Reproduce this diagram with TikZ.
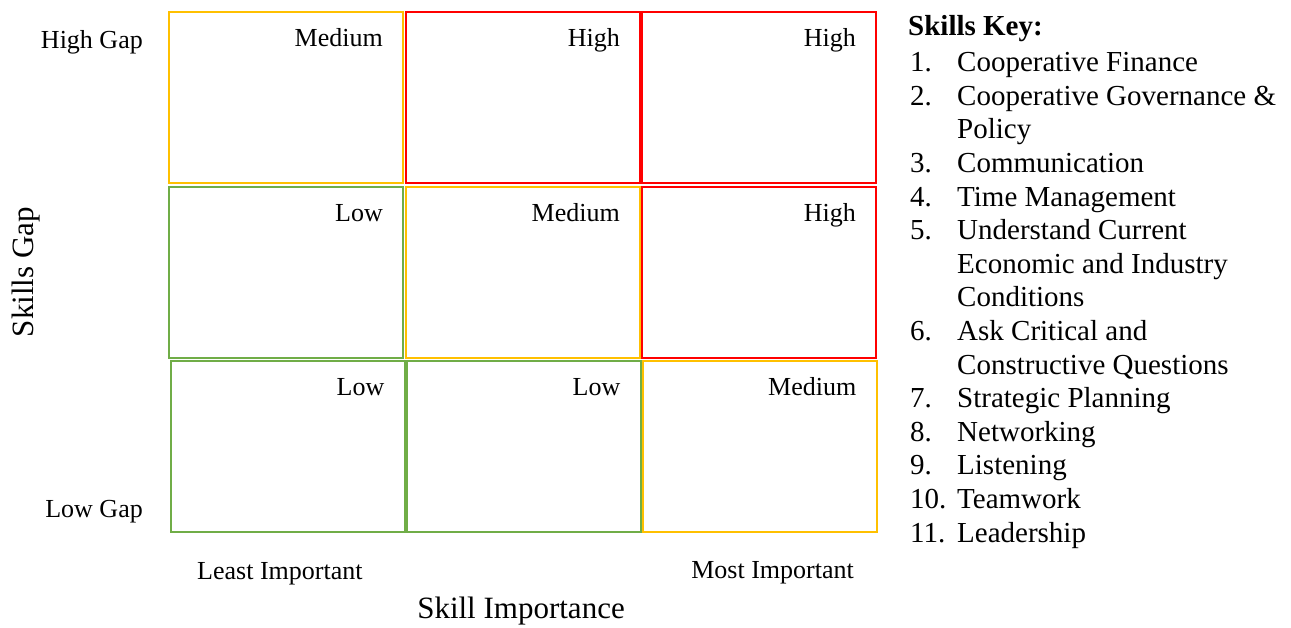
\documentclass[tikz,border=0pt]{standalone}
\usepackage{fontspec}
\setmainfont{Liberation Serif}
\definecolor{ylw}{HTML}{FFC000}
\definecolor{rd}{HTML}{FF0000}
\definecolor{grn}{HTML}{70AD47}
\begin{document}
\begin{tikzpicture}[x=1pt,y=-1pt,
  cell/.style={draw=#1, line width=2pt, minimum width=234pt, minimum height=171pt, inner sep=0pt},
  lvl/.style={anchor=base east, inner sep=0pt, font=\fontsize{26}{30}\selectfont},
  axl/.style={inner sep=0pt, font=\fontsize{26}{30}\selectfont},
  ttl/.style={inner sep=0pt, font=\fontsize{31}{36}\selectfont},
  keyt/.style={anchor=base west, inner sep=0pt, font=\fontsize{29}{33}\selectfont}]
\useasboundingbox (0,0) rectangle (1291,627);
% grid cells
\node[cell=ylw] (c11) at (286,97.5) {};
\node[cell=rd]  (c12) at (523,97.5) {};
\node[cell=rd]  (c13) at (759,97.5) {};
\node[cell=grn] (c21) at (286,272.5) {};
\node[cell=ylw] (c22) at (523,272.5) {};
\node[cell=rd]  (c23) at (759,272.5) {};
\node[cell=grn] (c31) at (287.5,446.5) {};
\node[cell=grn] (c32) at (523.5,446.5) {};
\node[cell=ylw] (c33) at (759.5,446.5) {};
% level labels
\foreach \c/\t in {c11/Medium,c12/High,c13/High,c21/Low,c22/Medium,c23/High,c31/Low,c32/Low,c33/Medium}{
  \node[lvl] (l\c) at ([xshift=-21pt,yshift=-35pt]\c.north east) {\t};
}
% axis labels
\node[axl, anchor=base east] (hg) at (143,48) {High Gap};
\node[axl, anchor=base east] (lg) at (143,517) {Low Gap};
\node[axl, anchor=base west] (li) at (197,579) {Least Important};
\node[axl, anchor=base east] (mi) at (854,578) {Most Important};
\node[ttl, anchor=base] (si) at (521,618) {Skill Importance};
\node[ttl, anchor=base, rotate=90] (sg) at (33,272) {Skills Gap};
% key
\node[keyt] (kt) at (908,35) {\bfseries Skills Key:};
\foreach \i/\n/\t [count=\k from 0] in {
  1/1./Cooperative Finance,
  2/2./Cooperative Governance \&,
  3//Policy,
  4/3./Communication,
  5/4./Time Management,
  6/5./Understand Current,
  7//Economic and Industry,
  8//Conditions,
  9/6./Ask Critical and,
  10//Constructive Questions,
  11/7./Strategic Planning,
  12/8./Networking,
  13/9./Listening,
  14/10./Teamwork,
  15/11./Leadership}{
  \node[keyt] (kn\i) at (910,71.7+33.6*\k) {\n};
  \node[keyt] (kx\i) at (957,71.7+33.6*\k) {\t};
}
\end{tikzpicture}
\end{document}
